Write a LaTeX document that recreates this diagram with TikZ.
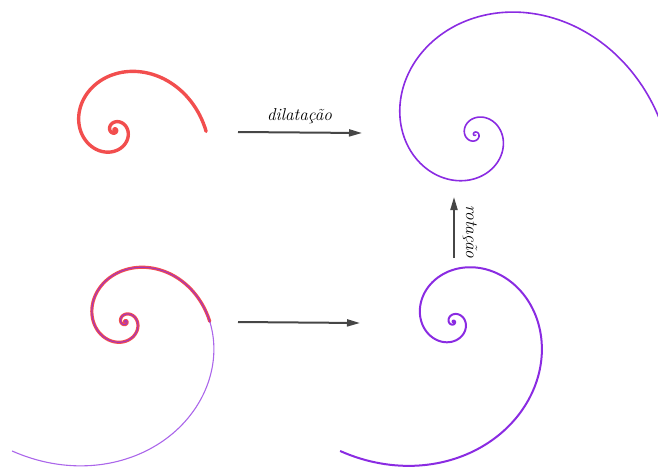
\documentclass[tikz,border=0pt]{standalone}
\usepackage{fontspec}
\usetikzlibrary{arrows.meta}
\definecolor{sred}{RGB}{242,78,78}
\definecolor{spurple}{RGB}{138,43,226}
\definecolor{sgray}{RGB}{70,70,70}
\tikzset{
  redsp/.style={draw=sred, line width=3.4pt, line cap=round, line join=round},
  redsptwo/.style={draw=sred, line width=3.2pt, line cap=round, line join=round},
  purpthin/.style={draw=spurple, draw opacity=0.72, line width=1.1pt, line join=round},
  purpmid/.style={draw=spurple, line width=1.6pt, line join=round},
  purpthick/.style={draw=spurple, line width=2.0pt, line join=round},
  arr/.style={draw=sgray, line width=2pt, -{Triangle[length=13pt,width=7pt]}},
  lbl/.style={font=\fontsize{17.2}{20}\selectfont\itshape, text=black, inner sep=0pt}
}
\begin{document}
\begin{tikzpicture}[x=1pt,y=-1pt]
\useasboundingbox (0,0) rectangle (658,466);
% top-left original spiral
\draw[redsp] plot[domain=-18.85:0.02, samples=600, variable=\t]
  ({114.7+91*exp(0.31*\t)*cos(\t r)},{130+91*exp(0.31*\t)*sin(\t r)});
% top-right dilated spiral
\begin{scope}
\clip (0,0) rectangle (658,466);
\draw[purpmid] plot[domain=-18.85:0.5, samples=700, variable=\t]
  ({475+190*exp(0.31*\t)*cos(\t r)},{134.5+190*exp(0.31*\t)*sin(\t r)});
\end{scope}
% bottom-left: original with rotated overlay
\draw[redsptwo] plot[domain=-18.85:0, samples=600, variable=\t]
  ({125.3+84.5*exp(0.31*\t)*cos(\t r)},{321.7+84.5*exp(0.31*\t)*sin(\t r)});
\draw[purpthin] plot[domain=-18.85:2.29, samples=700, variable=\t]
  ({125.3+84.5*exp(0.31*\t)*cos(\t r)},{321.7+84.5*exp(0.31*\t)*sin(\t r)});
% bottom-right rotated spiral
\draw[purpthick] plot[domain=-18.85:2.29, samples=700, variable=\t]
  ({453.3+84.5*exp(0.31*\t)*cos(\t r)},{321.7+84.5*exp(0.31*\t)*sin(\t r)});
% arrows
\coordinate (d1) at (238,132);
\coordinate (d2) at (362,133);
\coordinate (b1) at (238,322);
\coordinate (b2) at (360,323);
\coordinate (r1) at (454,258);
\coordinate (r2) at (454,197);
\draw[arr] (d1) -- (d2);
\draw[arr] (b1) -- (b2);
\draw[arr] (r1) -- (r2);
\node[lbl] (dl) at (299.5,116) {dilatação};
\node[lbl, rotate=-90] (rl) at (470,232) {rotação};
\end{tikzpicture}
\end{document}
